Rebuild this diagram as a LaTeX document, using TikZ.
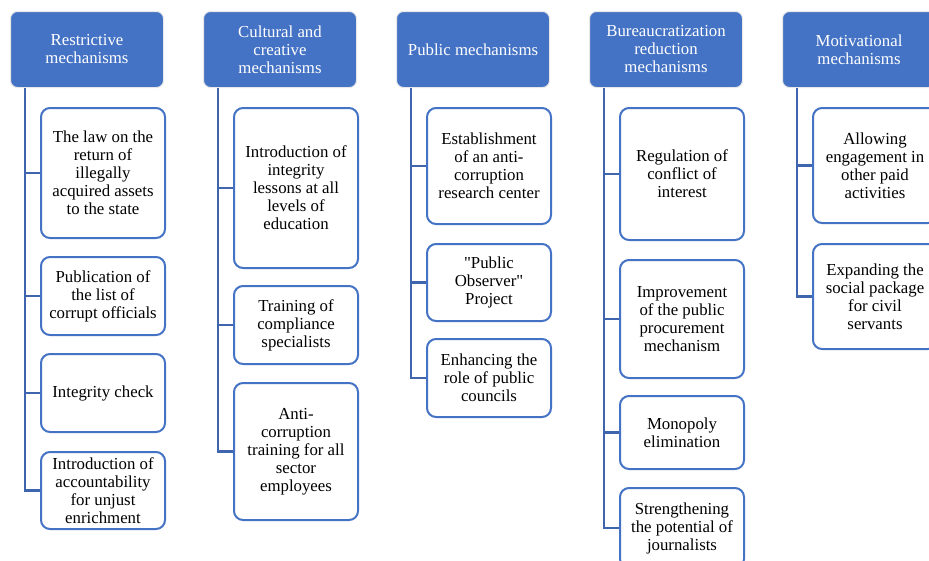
\documentclass[tikz,border=0pt]{standalone}
\usepackage{fontspec}
\setmainfont{Liberation Serif}[Ligatures=TeXOff]
\definecolor{hdr}{HTML}{4472C4}
\definecolor{edgeblue}{HTML}{4472C4}
\definecolor{conn}{HTML}{3F65AE}
\begin{document}
\begin{tikzpicture}[x=1pt,y=-1pt,
  hdrbox/.style={draw=gray!18, line width=1pt, fill=hdr, rounded corners=7pt, text=white,
    align=center, anchor=north west, minimum width=153pt, minimum height=76pt, inner sep=0pt,
    font=\fontsize{16.8}{18}\selectfont},
  itembox/.style={draw=edgeblue, line width=2pt, fill=white, rounded corners=9pt,
    align=center, anchor=north west, minimum width=124pt, inner sep=0pt,
    font=\fontsize{16.8}{18}\selectfont},
  conline/.style={draw=conn, line width=2.2pt}]
\clip (0,0) rectangle (929,560);
% headers
\node[hdrbox] (h1) at (10,11) {Restrictive\\mechanisms};
\node[hdrbox] (h2) at (203,11) {Cultural and\\creative\\mechanisms};
\node[hdrbox] (h3) at (396,11) {Public mechanisms};
\node[hdrbox] (h4) at (589,11) {Bureaucratization\\reduction\\mechanisms};
\node[hdrbox] (h5) at (782,11) {Motivational\\mechanisms};
% spine tops
\coordinate (s1) at ([xshift=15pt]h1.south west);
\coordinate (s2) at ([xshift=15pt]h2.south west);
\coordinate (s3) at ([xshift=15pt]h3.south west);
\coordinate (s4) at ([xshift=15pt]h4.south west);
\coordinate (s5) at ([xshift=15pt]h5.south west);
% restrictive
\node[itembox, minimum height=130pt] (r1) at (40,107) {The law on the\\return of\\illegally\\acquired assets\\to the state};
\node[itembox, minimum height=78pt] (r2) at (40,256) {Publication of\\the list of\\corrupt officials};
\node[itembox, minimum height=78pt] (r3) at (40,353) {Integrity check};
\node[itembox, minimum height=77pt] (r4) at (40,451) {Introduction of\\accountability\\for unjust\\enrichment};
% cultural
\node[itembox, minimum height=160pt] (c1) at (233,107) {Introduction of\\integrity\\lessons at all\\levels of\\education};
\node[itembox, minimum height=78pt] (c2) at (233,285) {Training of\\compliance\\specialists};
\node[itembox, minimum height=137pt] (c3) at (233,382) {Anti-\\corruption\\training for all\\sector\\employees};
% public
\node[itembox, minimum height=116pt] (p1) at (426,107) {Establishment\\of an anti-\\corruption\\research center};
\node[itembox, minimum height=77pt] (p2) at (426,243) {"Public\\Observer"\\Project};
\node[itembox, minimum height=78pt] (p3) at (426,338) {Enhancing the\\role of public\\councils};
% bureaucratization
\node[itembox, minimum height=132pt] (b1) at (619,107) {Regulation of\\conflict of\\interest};
\node[itembox, minimum height=118pt] (b2) at (619,259) {Improvement\\of the public\\procurement\\mechanism};
\node[itembox, minimum height=73pt] (b3) at (619,395) {Monopoly\\elimination};
\node[itembox, minimum height=80pt] (b4) at (619,487) {Strengthening\\the potential of\\journalists};
% motivational
\node[itembox, minimum height=115pt] (m1) at (812,107) {Allowing\\engagement in\\other paid\\activities};
\node[itembox, minimum height=105pt] (m2) at (812,243) {Expanding the\\social package\\for civil\\servants};
% connectors
\foreach \c in {r1,r2,r3,r4} \draw[conline] (s1) |- (\c.west);
\foreach \c in {c1,c2,c3} \draw[conline] (s2) |- (\c.west);
\foreach \c in {p1,p2,p3} \draw[conline] (s3) |- (\c.west);
\foreach \c in {b1,b2,b3,b4} \draw[conline] (s4) |- (\c.west);
\foreach \c in {m1,m2} \draw[conline] (s5) |- (\c.west);
\end{tikzpicture}
\end{document}
